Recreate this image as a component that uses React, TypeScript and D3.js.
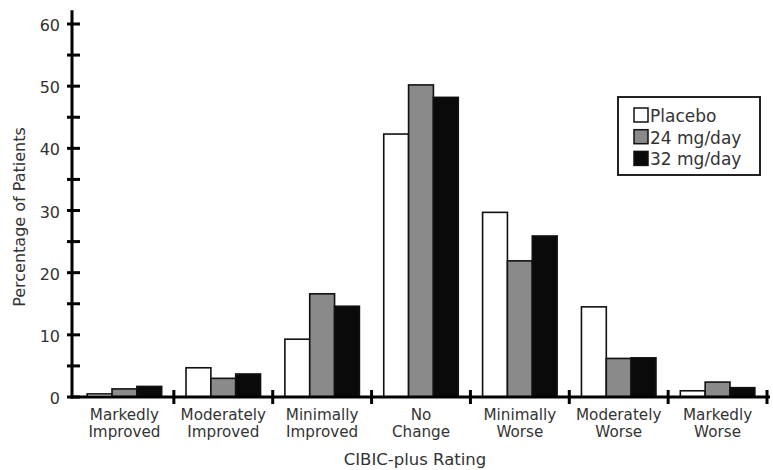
import React from "react";
import * as d3 from "d3";

const categories = [
  ["Markedly", "Improved"],
  ["Moderately", "Improved"],
  ["Minimally", "Improved"],
  ["No", "Change"],
  ["Minimally", "Worse"],
  ["Moderately", "Worse"],
  ["Markedly", "Worse"],
];
const seriesNames = ["Placebo", "24 mg/day", "32 mg/day"];
const placebo = [0.5, 4.7, 9.3, 42.3, 29.7, 14.5, 1.0];
const mg24 = [1.3, 3.0, 16.6, 50.2, 21.9, 6.2, 2.4];
const mg32 = [1.7, 3.7, 14.6, 48.2, 25.9, 6.3, 1.5];
const yTicks = [0, 10, 20, 30, 40, 50, 60];
const yMinorTicks = [5, 15, 25, 35, 45, 55];

const seriesValues = [placebo, mg24, mg32];
const fills = ["#ffffff", "#8a8a8a", "#0a0a0a"];

export default function App() {
  const W = 773;
  const H = 470;
  const axisX = 72;
  const catIds = categories.map((_, i) => String(i));
  const x = d3.scaleBand<string>().domain(catIds).range([75, 767]).paddingInner(0).paddingOuter(0);
  const xs = d3
    .scaleBand<string>()
    .domain(seriesNames)
    .range([0, x.bandwidth()])
    .paddingInner(0)
    .paddingOuter(0.49);
  const y = d3.scaleLinear().domain([0, 60]).range([397, 24]);
  const font = "'DejaVu Sans', sans-serif";
  const textColor = "#333";

  const boundaries = catIds.map((id) => (x(id) as number) + x.bandwidth());

  return (
    <svg
      width={W}
      height={H}
      style={{ position: "absolute", left: 0, top: 0, background: "#fff" }}
      fontFamily={font}
    >
      <rect x={0} y={0} width={W} height={H} fill="#fff" />
      {/* bars */}
      {catIds.map((id, ci) =>
        seriesNames.map((s, si) => {
          const v = seriesValues[si][ci];
          const bx = (x(id) as number) + (xs(s) as number);
          return (
            <rect
              key={id + s}
              x={bx}
              y={y(v)}
              width={xs.bandwidth()}
              height={y(0) - y(v)}
              fill={fills[si]}
              stroke="#111"
              strokeWidth={1.6}
            />
          );
        })
      )}
      {/* y axis */}
      <line x1={axisX} x2={axisX} y1={y(62.2)} y2={y(0) + 1.5} stroke="#000" strokeWidth={3} />
      {[...yTicks, ...yMinorTicks].map((t) => (
        <line key={"t" + t} x1={axisX - 5} x2={axisX + 8} y1={y(t)} y2={y(t)} stroke="#000" strokeWidth={3} />
      ))}
      {yTicks.map((t) => (
        <text
          key={"l" + t}
          x={60}
          y={y(t) + 2.5}
          textAnchor="end"
          dominantBaseline="middle"
          fontSize={16}
          fill={textColor}
        >
          {t}
        </text>
      ))}
      {/* x axis */}
      <line x1={axisX - 1.5} x2={770} y1={y(0)} y2={y(0)} stroke="#000" strokeWidth={3} />
      {boundaries.map((b, i) => (
        <line key={"b" + i} x1={b} x2={b} y1={390} y2={404} stroke="#000" strokeWidth={3} />
      ))}
      {catIds.map((id, ci) => {
        const cx = (x(id) as number) + x.bandwidth() / 2;
        return (
          <g key={"c" + id}>
            <text x={cx} y={419.5} textAnchor="middle" fontSize={15.2} fill={textColor}>
              {categories[ci][0]}
            </text>
            <text x={cx} y={436.5} textAnchor="middle" fontSize={15.2} fill={textColor}>
              {categories[ci][1]}
            </text>
          </g>
        );
      })}
      <text x={415} y={465} textAnchor="middle" fontSize={16.5} fill={textColor}>
        CIBIC-plus Rating
      </text>
      <text
        transform={`translate(25,217) rotate(-90)`}
        textAnchor="middle"
        fontSize={16}
        fill={textColor}
      >
        Percentage of Patients
      </text>
      {/* legend */}
      <rect x={618} y={97} width={142} height={78} fill="#fff" stroke="#222" strokeWidth={2} />
      {seriesNames.map((s, si) => (
        <g key={"lg" + s} transform={`translate(634, ${108 + si * 21.7})`}>
          <rect x={0} y={0} width={14} height={14} fill={fills[si]} stroke="#111" strokeWidth={1.5} />
          <text x={16} y={14} fontSize={17} fill={textColor}>
            {s}
          </text>
        </g>
      ))}
    </svg>
  );
}
